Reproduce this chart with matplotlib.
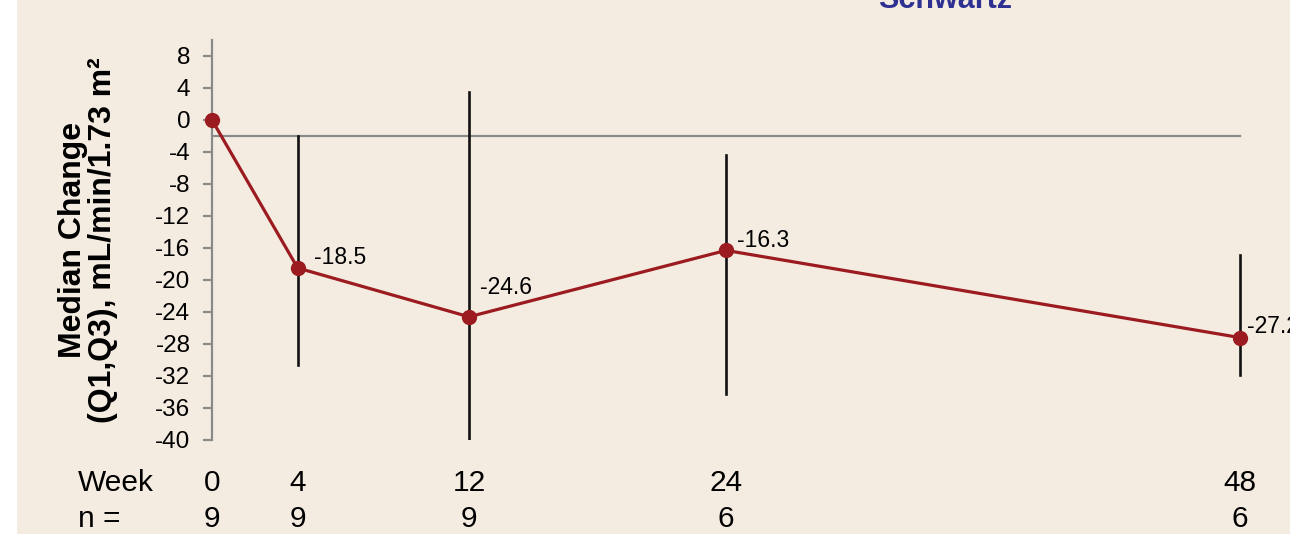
import matplotlib
matplotlib.use("Agg")
import matplotlib.pyplot as plt
import matplotlib.transforms as mtransforms
from matplotlib.patches import Rectangle

plt.rcParams["font.family"] = ["Liberation Sans", "DejaVu Sans"]

# ── data
weeks = [0, 4, 12, 24, 48]
n_pts = [9, 9, 9, 6, 6]
median = [0.0, -18.5, -24.6, -16.3, -27.2]
q1 = [None, -30.6, -39.9, -34.2, -31.9]
q3 = [None, -2.0, 3.5, -4.4, -16.9]
labels = ["", "-18.5", "-24.6", "-16.3", "-27.2"]
label_offsets = [(0, 0), (16, 10), (11, 29), (11, 10), (7, 11)]   # px
y_ticks = list(range(8, -41, -4))
ref_line = -2.0

BG = "#F4ECE1"
RED = "#9B1B20"
GREY = "#8A8A8A"

fig = plt.figure(figsize=(12.9, 5.34), dpi=100)
fig.patch.set_facecolor("white")
fig.patches.append(Rectangle((17 / 1290, 0), 1, 1, transform=fig.transFigure,
                             facecolor=BG, edgecolor="none", zorder=-10))

ax = fig.add_axes([212 / 1290, 1 - 440 / 534, 1 - 212 / 1290, 400 / 534])
ax.set_zorder(5)
ax.set_facecolor("none")
ax.set_xlim(0, (1290 - 212) / (1028 / 48))
ax.set_ylim(-40, 10)

# reference line
ax.plot([weeks[0], weeks[-1]], [ref_line, ref_line], color=GREY, lw=1.6, zorder=1)

# Q1–Q3 bars
for w, lo, hi in zip(weeks, q1, q3):
    if lo is None:
        continue
    ax.plot([w, w], [lo, hi], color="#111111", lw=1.9, zorder=2)

ax.plot(weeks, median, color=RED, lw=2.3, marker="o", markersize=10,
        zorder=3, clip_on=False)

for w, m, lab, (dx, dy) in zip(weeks, median, labels, label_offsets):
    if not lab:
        continue
    ax.annotate(lab, xy=(w, m), xytext=(dx * 0.72, dy * 0.72),
                textcoords="offset points", fontsize=16.5, va="center",
                ha="left", annotation_clip=False, clip_on=False)

# axes styling
for sp in ["top", "right", "bottom"]:
    ax.spines[sp].set_visible(False)
ax.spines["left"].set_color(GREY)
ax.spines["left"].set_linewidth(1.6)
ax.set_xticks([])
ax.set_yticks(y_ticks)
ax.set_yticklabels([str(t) for t in y_ticks])
ax.tick_params(axis="y", direction="out", length=6.5, width=1.6, color=GREY,
               labelsize=17.5, pad=9)

ax.set_ylabel("Median Change\n(Q1,Q3), mL/min/1.73 m²", fontsize=23,
              fontweight="bold", labelpad=27, linespacing=1.0)

# Week / n rows under the plot
trans = mtransforms.blended_transform_factory(ax.transData, fig.transFigure)
row_week = 1 - 483 / 534
row_n = 1 - 519 / 534
fig.text(78 / 1290, row_week, "Week", fontsize=21.5, va="center", ha="left")
fig.text(78 / 1290, row_n, "n =", fontsize=21.5, va="center", ha="left")
for w, n in zip(weeks, n_pts):
    ax.text(w, row_week, str(w), transform=trans, fontsize=21.5,
            ha="center", va="center", clip_on=False)
    ax.text(w, row_n, str(n), transform=trans, fontsize=21.5,
            ha="center", va="center", clip_on=False)

# title fragment cut off at the top edge
fig.text(878 / 1290, 1 - 8 / 534, "Schwartz", fontsize=22, fontweight="bold",
         color="#2E3192", va="baseline", ha="left")

fig.savefig("out.png", dpi=100, facecolor=fig.get_facecolor())
